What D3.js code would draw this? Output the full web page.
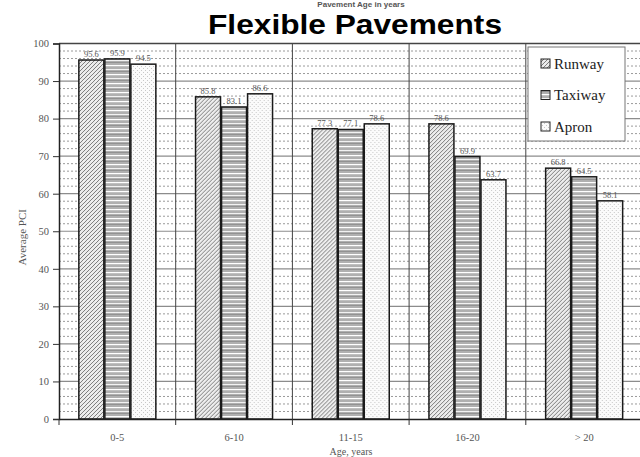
<!DOCTYPE html>
<html><head><meta charset="utf-8">
<script src="https://cdn.jsdelivr.net/npm/d3@7"></script>
<style>body{margin:0;background:#fff}svg{display:block}</style>
</head><body>
<svg id="c" width="640" height="457"></svg>
<script>
const categories = ["0-5", "6-10", "11-15", "16-20", "> 20"];
const seriesNames = ["Runway", "Taxiway", "Apron"];
const runway  = [95.6, 85.8, 77.3, 78.6, 66.8];
const taxiway = [95.9, 83.1, 77.1, 69.9, 64.5];
const apron   = [94.5, 86.6, 78.6, 63.7, 58.1];
const yTicks = [0, 10, 20, 30, 40, 50, 60, 70, 80, 90, 100];
const title = "Flexible Pavements";
const topText = "Pavement Age in years";
const yTitle = "Average PCI";
const xTitle = "Age, years";

(function() {
const series = [runway, taxiway, apron];
const svg = d3.select("#c");
const pLeft = 59, pTop = 43.5, pBottom = 419, catW = 116.7;
const pRight = pLeft + catW * categories.length;

const defs = svg.append("defs");
const p1 = defs.append("pattern").attr("id","pRunway").attr("patternUnits","userSpaceOnUse").attr("width",4).attr("height",4);
p1.append("rect").attr("width",4).attr("height",4).attr("fill","#eaeaea");
p1.append("path").attr("d","M-1,1 L1,-1 M0,4 L4,0 M3,5 L5,3").attr("stroke","#737373").attr("stroke-width",0.9);
p1.append("rect").attr("x",0.5).attr("y",0.5).attr("width",1).attr("height",1).attr("fill","#ffffff");
const p2 = defs.append("pattern").attr("id","pTaxiway").attr("patternUnits","userSpaceOnUse").attr("width",8).attr("height",9);
p2.append("rect").attr("width",8).attr("height",9).attr("fill","#b0b0b0");
p2.append("rect").attr("y",2).attr("width",8).attr("height",1.2).attr("fill","#ffffff");
p2.append("rect").attr("y",6).attr("width",8).attr("height",1).attr("fill","#f2f2f2");
p2.append("rect").attr("y",8).attr("width",8).attr("height",0.8).attr("fill","#8a8a8a");
const p3 = defs.append("pattern").attr("id","pApron").attr("patternUnits","userSpaceOnUse").attr("width",4).attr("height",4);
p3.append("rect").attr("width",4).attr("height",4).attr("fill","#fbfbfb");
p3.append("rect").attr("x",0).attr("y",0).attr("width",1).attr("height",1).attr("fill","#c8c8c8");
p3.append("rect").attr("x",2).attr("y",2).attr("width",1).attr("height",1).attr("fill","#c8c8c8");
const fills = ["url(#pRunway)","url(#pTaxiway)","url(#pApron)"];

const x = d3.scaleBand().domain(categories).range([pLeft, pRight]).paddingInner(0).paddingOuter(0);
const groupW = 77;
const xIn = d3.scaleBand().domain(seriesNames)
  .range([(x.bandwidth() - groupW) / 2, (x.bandwidth() + groupW) / 2]).paddingInner(0.04).paddingOuter(0);
const y = d3.scaleLinear().domain([0, 100]).range([pBottom, pTop]);

const minor = d3.range(2, 100, 2).filter(v => v % 10 !== 0);
svg.append("g").selectAll("line").data(minor).join("line")
  .attr("x1", pLeft).attr("x2", pRight).attr("y1", d => y(d)).attr("y2", d => y(d))
  .attr("stroke", "#9a9a9a").attr("stroke-width", 1).attr("stroke-dasharray", "2,2");
svg.append("g").selectAll("line").data(yTicks.filter(v => v > 0)).join("line")
  .attr("x1", pLeft).attr("x2", pRight).attr("y1", d => y(d)).attr("y2", d => y(d))
  .attr("stroke", d => d === 100 ? "#444" : "#8c8c8c").attr("stroke-width", d => d === 100 ? 1.5 : 1.2);
svg.append("g").selectAll("line").data(categories.slice(1)).join("line")
  .attr("x1", d => x(d)).attr("x2", d => x(d)).attr("y1", pTop).attr("y2", pBottom)
  .attr("stroke", "#444").attr("stroke-width", 1);

const groups = svg.append("g").selectAll("g").data(categories).join("g")
  .attr("transform", d => `translate(${x(d)},0)`);
groups.each(function(cat, ci) {
  const g = d3.select(this);
  seriesNames.forEach((s, si) => {
    const v = series[si][ci];
    g.append("rect").attr("x", xIn(s)).attr("y", y(v)).attr("width", xIn.bandwidth()).attr("height", pBottom - y(v))
      .attr("fill", fills[si]).attr("stroke", "#1a1a1a").attr("stroke-width", 1.5);
    g.append("text").attr("x", xIn(s) + xIn.bandwidth()/2).attr("y", y(v) - 3)
      .attr("text-anchor", "middle").attr("font-family", "Liberation Serif, serif").attr("font-size", 8.5)
      .attr("fill", "#555").text(v.toFixed(1));
  });
});

const yAxis = d3.axisLeft(y).tickValues(yTicks).tickSize(6).tickPadding(4);
const ya = svg.append("g").attr("transform", `translate(${pLeft},0)`).call(yAxis);
ya.select(".domain").attr("stroke", "#222").attr("stroke-width", 1.5);
ya.selectAll(".tick line").attr("stroke", "#333");
ya.selectAll("text").attr("font-family", "Liberation Serif, serif").attr("font-size", 10.5).attr("fill", "#555");

const xAxis = d3.axisBottom(x).tickSize(0).tickPadding(15);
const xa = svg.append("g").attr("transform", `translate(0,${pBottom})`).call(xAxis);
xa.select(".domain").attr("stroke", "#222").attr("stroke-width", 1.5);
xa.selectAll("text").attr("font-family", "Liberation Serif, serif").attr("font-size", 10.5).attr("fill", "#555");
svg.append("g").selectAll("line").data(d3.range(categories.length + 1)).join("line")
  .attr("x1", i => pLeft + i * x.step()).attr("x2", i => pLeft + i * x.step())
  .attr("y1", pBottom).attr("y2", pBottom + 6).attr("stroke", "#333");

svg.append("text").attr("x", 361).attr("y", 6.5).attr("text-anchor", "middle")
  .attr("font-family", "Liberation Sans, Arial, sans-serif").attr("font-weight", "bold").attr("font-size", 8)
  .attr("fill", "#555").text(topText);
svg.append("text").attr("x", 355).attr("y", 33.5).attr("text-anchor", "middle")
  .attr("font-family", "Liberation Sans, Arial, sans-serif").attr("font-weight", "bold").attr("font-size", 27)
  .attr("textLength", 294).attr("lengthAdjust", "spacingAndGlyphs")
  .attr("fill", "#000").text(title);
svg.append("text").attr("transform", `translate(26,${(pTop + pBottom) / 2 + 6}) rotate(-90)`).attr("text-anchor", "middle")
  .attr("font-family", "Liberation Serif, serif").attr("font-size", 11).attr("fill", "#555").text(yTitle);
svg.append("text").attr("x", 351).attr("y", 455).attr("text-anchor", "middle")
  .attr("font-family", "Liberation Serif, serif").attr("font-size", 10).attr("fill", "#555").text(xTitle);

const lg = svg.append("g").attr("transform", "translate(528,47)");
lg.append("rect").attr("width", 97).attr("height", 94).attr("fill", "#fff").attr("stroke", "#777").attr("stroke-width", 1);
seriesNames.forEach((s, i) => {
  const yy = 17 + i * 31.5;
  lg.append("rect").attr("x", 13).attr("y", yy - 5).attr("width", 9).attr("height", 9)
    .attr("fill", fills[i]).attr("stroke", "#222").attr("stroke-width", 1);
  lg.append("text").attr("x", 26).attr("y", yy + 4.5).attr("font-family", "Liberation Serif, serif")
    .attr("font-size", 15).attr("fill", "#222").text(s);
});
})();
</script>
</body></html>
